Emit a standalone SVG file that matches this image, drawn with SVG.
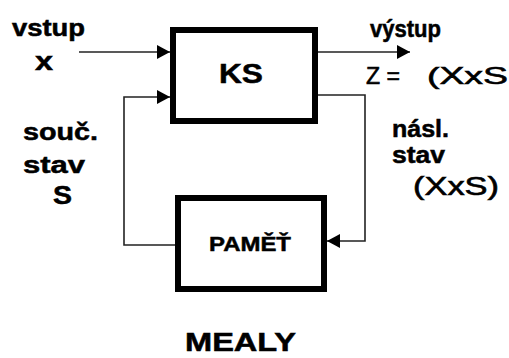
<svg xmlns="http://www.w3.org/2000/svg" width="509" height="358" viewBox="0 0 509 358">
<style>
.t{font-family:"Liberation Sans",Arial,sans-serif;fill:#000;}
.b{font-weight:bold;stroke:#000;stroke-width:0.5;}
.n{stroke:#000;stroke-width:0.6;}
.box{fill:#fff;stroke:#000;stroke-width:6;}
.ln{fill:none;stroke:#222;stroke-width:1.6;}
</style>
<defs>
<marker id="ah" markerWidth="13" markerHeight="14" refX="13" refY="7" orient="auto" markerUnits="userSpaceOnUse">
<path d="M0,0 L13,7 L0,14 Z" fill="#000"/>
</marker>
</defs>
<rect width="509" height="358" fill="#fff"/>
<g id="connectors">
<line class="ln" x1="79" y1="52" x2="170" y2="52" marker-end="url(#ah)"/>
<polyline class="ln" points="175,245 124,245 124,97 170,97" marker-end="url(#ah)"/>
<line class="ln" x1="318" y1="52" x2="410" y2="52" marker-end="url(#ah)"/>
<polyline class="ln" points="318,95 365,95 365,241 327,241" marker-end="url(#ah)"/>
</g>
<g id="ks">
<rect class="box" x="173" y="30" width="142" height="91"/>
<text class="t b" x="219" y="83" font-size="27" textLength="44" lengthAdjust="spacingAndGlyphs">KS</text>
</g>
<g id="pamet">
<rect class="box" x="178" y="198" width="146" height="91"/>
<line x1="325" y1="196" x2="325" y2="292" stroke="#000" stroke-width="3"/>
<text class="t b" x="209" y="251" font-size="21" textLength="82" lengthAdjust="spacingAndGlyphs">PAMĚŤ</text>
</g>
<g id="labels">
<text class="t b" x="12" y="36" font-size="23" textLength="73" lengthAdjust="spacingAndGlyphs">vstup</text>
<text class="t b" x="35" y="70" font-size="25" textLength="18" lengthAdjust="spacingAndGlyphs">x</text>
<text class="t b" x="23" y="140" font-size="23" textLength="75" lengthAdjust="spacingAndGlyphs">souč.</text>
<text class="t b" x="23" y="173" font-size="23" textLength="62" lengthAdjust="spacingAndGlyphs">stav</text>
<text class="t b" x="53" y="204" font-size="25" textLength="19" lengthAdjust="spacingAndGlyphs">S</text>
<text class="t b" x="370" y="37" font-size="23" textLength="71" lengthAdjust="spacingAndGlyphs">výstup</text>
<text class="t n" x="366" y="84" font-size="24" textLength="34" lengthAdjust="spacingAndGlyphs">Z =</text>
<text class="t n" x="427" y="84" font-size="24" textLength="81" lengthAdjust="spacingAndGlyphs">(XxS</text>
<text class="t b" x="392" y="137" font-size="23" textLength="57" lengthAdjust="spacingAndGlyphs">násl.</text>
<text class="t b" x="392" y="163" font-size="23" textLength="53" lengthAdjust="spacingAndGlyphs">stav</text>
<text class="t n" x="413" y="195" font-size="25" textLength="86" lengthAdjust="spacingAndGlyphs">(XxS)</text>
<text class="t b" x="185" y="351" font-size="25" textLength="111" lengthAdjust="spacingAndGlyphs">MEALY</text>
</g>
</svg>
